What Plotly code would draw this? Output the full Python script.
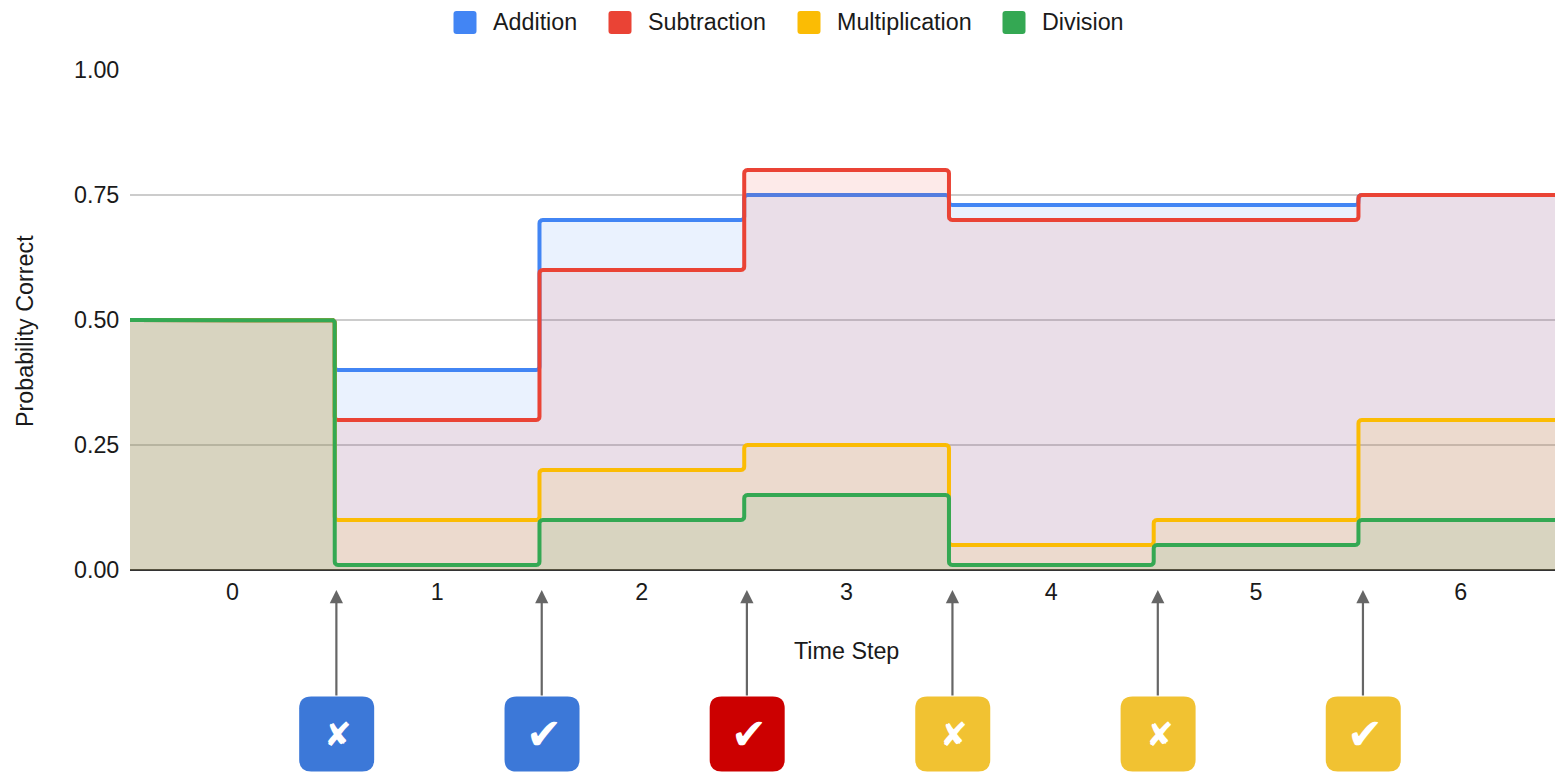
import plotly.graph_objects as go

# Probability of a correct answer per operation, one value for each time step
steps = [0, 1, 2, 3, 4, 5, 6]
addition = [0.50, 0.40, 0.70, 0.75, 0.73, 0.73, 0.75]
subtraction = [0.50, 0.30, 0.60, 0.80, 0.70, 0.70, 0.75]
multiplication = [0.50, 0.10, 0.20, 0.25, 0.05, 0.10, 0.30]
division = [0.50, 0.01, 0.10, 0.15, 0.01, 0.05, 0.10]

series_names = ["Addition", "Subtraction", "Multiplication", "Division"]
series_values = [addition, subtraction, multiplication, division]
series_colors = ["#4285F4", "#EA4335", "#FBBC04", "#34A853"]
legend_px = [465, 620, 809, 1014]

# Questions asked between the time steps
question_colors = ["#3C78D8", "#3C78D8", "#CC0000", "#F1C232", "#F1C232", "#F1C232"]
question_marks = ["✘", "✔", "✔", "✘", "✘", "✔"]
question_x = [0.508, 1.511, 2.513, 3.517, 4.520, 5.522]
mark_sizes = {"✘": 33, "✔": 43}

y_ticks = [0, 0.25, 0.5, 0.75, 1]
FONT = "Liberation Sans, Arial, sans-serif"
TEXT = "#1a1a1a"
WIDTH, HEIGHT = 1555, 772
PLOT_LEFT, PLOT_TOP, PLOT_H = 130, 70, 500
X_RANGE = [-0.5, 6.46]
PX_PER_STEP = (WIDTH - PLOT_LEFT) / (X_RANGE[1] - X_RANGE[0])
CORNER = 3.5  # px radius of the bends in the step lines
ARC = [0.0, 0.29, 0.71, 1.0]


def rounded_square(half, r, cx=0.0):
    k = half - r
    return (
        f"M {cx - k} {-half} L {cx + k} {-half} Q {cx + half} {-half} {cx + half} {-k} "
        f"L {cx + half} {k} Q {cx + half} {half} {cx + k} {half} "
        f"L {cx - k} {half} Q {cx - half} {half} {cx - half} {k} "
        f"L {cx - half} {-k} Q {cx - half} {-half} {cx - k} {-half} Z"
    )


def rounded_steps(values):
    """Step outline through the values, with small rounded bends at each change."""
    dx = CORNER / PX_PER_STEP
    dy = CORNER / PLOT_H
    xs, ys = [steps[0] - 0.5], [values[0]]
    for i in range(1, len(values)):
        edge = steps[i] - 0.5
        prev, cur = values[i - 1], values[i]
        if prev == cur:
            continue
        sign = 1 if cur > prev else -1
        for t in ARC:  # bend out of the horizontal run
            xs.append(edge - dx * (1 - t) ** 2)
            ys.append(prev + sign * dy * t ** 2)
        for t in ARC:  # bend into the next horizontal run
            xs.append(edge + dx * t ** 2)
            ys.append(cur - sign * dy * (1 - t) ** 2)
    xs.append(steps[-1] + 0.5)
    ys.append(values[-1])
    return xs, ys


def rgba(color, alpha):
    return f"rgba({int(color[1:3], 16)},{int(color[3:5], 16)},{int(color[5:7], 16)},{alpha})"


fig = go.Figure()

for name, values, color in zip(series_names, series_values, series_colors):
    xs, ys = rounded_steps(values)
    fig.add_trace(go.Scatter(
        x=xs, y=ys, mode="lines", name=name,
        line=dict(color=color, width=4),
        fill="tozeroy", fillcolor=rgba(color, 0.11),
        showlegend=False, hoverinfo="skip",
    ))

shapes = []
annotations = []

# Legend row: rounded colour keys followed by their labels
for name, color, px in zip(series_names, series_colors, legend_px):
    shapes.append(dict(
        type="path", xref="paper", yref="paper",
        xsizemode="pixel", ysizemode="pixel",
        xanchor=(px - PLOT_LEFT) / (WIDTH - PLOT_LEFT),
        yanchor=(PLOT_H + PLOT_TOP - 22.5) / PLOT_H,
        path=rounded_square(11.5, 3), fillcolor=color, line=dict(width=0),
    ))
    annotations.append(dict(
        x=(px + 26 - PLOT_LEFT) / (WIDTH - PLOT_LEFT), xref="paper",
        y=(PLOT_H + PLOT_TOP - 22) / PLOT_H, yref="paper",
        text=name, showarrow=False, xanchor="left", yanchor="middle",
        font=dict(family=FONT, size=23.3, color=TEXT),
    ))

# Question cards below the axis, each with an arrow up to its step change
for qx, qc, qm in zip(question_x, question_colors, question_marks):
    shapes.append(dict(
        type="path", xref="x", yref="paper",
        xsizemode="pixel", ysizemode="pixel",
        xanchor=qx, yanchor=-164 / PLOT_H,
        path=rounded_square(37.5, 12, cx=0.3),
        fillcolor=qc, line=dict(width=0), layer="above",
    ))
    annotations.append(dict(
        x=qx, xref="x", y=-164 / PLOT_H, yref="paper", xshift=2,
        text=qm, showarrow=False, xanchor="center", yanchor="middle",
        font=dict(family="DejaVu Sans", size=mark_sizes[qm], color="white"),
    ))
    annotations.append(dict(
        x=qx, xref="x", y=-20 / PLOT_H, yref="paper",
        axref="pixel", ayref="pixel", ax=0, ay=107,
        text="", showarrow=True, arrowhead=2, arrowsize=1.2,
        arrowwidth=2.2, arrowcolor="#666666",
    ))

# Axis titles
annotations.append(dict(
    x=3.0, xref="x", y=-81 / PLOT_H, yref="paper",
    text="Time Step", showarrow=False, xanchor="center", yanchor="middle",
    font=dict(family=FONT, size=23.3, color=TEXT),
))
annotations.append(dict(
    x=(25 - PLOT_LEFT) / (WIDTH - PLOT_LEFT), xref="paper",
    y=(PLOT_H + PLOT_TOP - 331) / PLOT_H, yref="paper",
    text="Probability Correct", textangle=-90, showarrow=False,
    xanchor="center", yanchor="middle",
    font=dict(family=FONT, size=23.3, color=TEXT),
))

fig.update_layout(
    width=WIDTH, height=HEIGHT,
    margin=dict(l=PLOT_LEFT, r=0, t=PLOT_TOP, b=HEIGHT - PLOT_TOP - PLOT_H),
    paper_bgcolor="white", plot_bgcolor="white",
    font=dict(family=FONT, size=23.3, color=TEXT),
    showlegend=False,
    shapes=shapes,
    annotations=annotations,
    xaxis=dict(
        range=X_RANGE, tickmode="array", tickvals=steps,
        ticktext=[str(s) for s in steps], showgrid=False, zeroline=False,
        ticks="outside", ticklen=1, tickcolor="rgba(0,0,0,0)",
        showline=False, fixedrange=True,
    ),
    yaxis=dict(
        range=[0, 1], tickmode="array", tickvals=y_ticks,
        ticktext=[f"{t:.2f}" for t in y_ticks],
        showgrid=True, gridcolor="#cccccc", gridwidth=1.5,
        zeroline=True, zerolinecolor="#333333", zerolinewidth=1.5,
        ticks="outside", ticklen=5, tickcolor="rgba(0,0,0,0)",
        showline=False, fixedrange=True,
    ),
)

fig.write_html("out.html", config=dict(displayModeBar=False))
